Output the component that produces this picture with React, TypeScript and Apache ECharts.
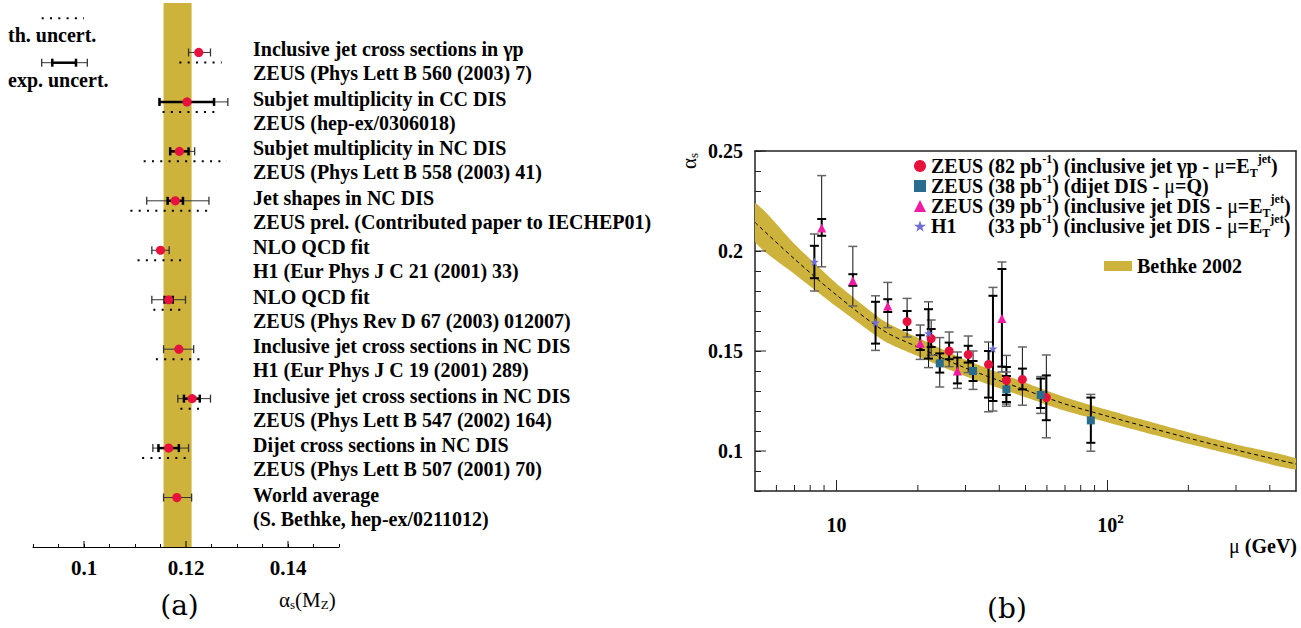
import React, { useEffect, useRef } from 'react';
import * as echarts from 'echarts';

// ---------- (a) alpha_s(M_Z) summary ----------
const rowTitles = [
  'Inclusive jet cross sections in γp',
  'Subjet multiplicity in CC DIS',
  'Subjet multiplicity in NC DIS',
  'Jet shapes in NC DIS',
  'NLO QCD fit',
  'NLO QCD fit',
  'Inclusive jet cross sections in NC DIS',
  'Inclusive jet cross sections in NC DIS',
  'Dijet cross sections in NC DIS',
  'World average',
];
const rowRefs = [
  'ZEUS (Phys Lett B 560 (2003) 7)',
  'ZEUS (hep-ex/0306018)',
  'ZEUS (Phys Lett B 558 (2003) 41)',
  'ZEUS prel. (Contributed paper to IECHEP01)',
  'H1 (Eur Phys J C 21 (2001) 33)',
  'ZEUS (Phys Rev D 67 (2003) 012007)',
  'H1 (Eur Phys J C 19 (2001) 289)',
  'ZEUS (Phys Lett B 547 (2002) 164)',
  'ZEUS (Phys Lett B 507 (2001) 70)',
  '(S. Bethke, hep-ex/0211012)',
];
const rowValues = [0.1225, 0.1202, 0.1187, 0.1179, 0.115, 0.1166, 0.1186, 0.1212, 0.1166, 0.1182];
const rowExpLo = [0.1205, 0.1148, 0.1169, 0.1123, 0.1133, 0.1133, 0.1156, 0.1184, 0.1135, 0.1156];
const rowExpHi = [0.1248, 0.1282, 0.1217, 0.1245, 0.1167, 0.1199, 0.1215, 0.1248, 0.1205, 0.1211];
const rowStatLo = [null, 0.1148, 0.1169, 0.1164, null, 0.1158, null, 0.1196, 0.1146, null];
const rowStatHi = [null, 0.1255, 0.1205, 0.1194, null, 0.1174, null, 0.1227, 0.1186, null];
const rowThLo = [0.1187, 0.1154, 0.1117, 0.1091, 0.1105, 0.1136, 0.1141, 0.1189, 0.1114, null];
const rowThHi = [0.127, 0.1266, 0.128, 0.1253, 0.1202, 0.1192, 0.1238, 0.1233, 0.1211, null];
const worldBand = [0.1156, 0.1211];
const leftTickLabels = [0.1, 0.12, 0.14];

// ---------- (b) alpha_s(mu) running ----------
// [mu, alpha_s, innerLo, innerHi, outerLo, outerHi]
const zeusGammaP = [
  [18.25, 0.1647, 0.1605, 0.17, 0.157, 0.1763],
  [22.4, 0.1562, 0.152, 0.161, 0.1478, 0.1655],
  [26.1, 0.15, 0.1459, 0.1542, 0.1422, 0.1595],
  [30.7, 0.1482, 0.1442, 0.1526, 0.1392, 0.1575],
  [36.5, 0.1433, 0.1267, 0.15, 0.1196, 0.1545],
  [42.5, 0.1353, 0.128, 0.142, 0.1235, 0.1478],
  [48.7, 0.1358, 0.1308, 0.1412, 0.1229, 0.152],
  [59.7, 0.1267, 0.1154, 0.1378, 0.1066, 0.148],
];
const zeusDijet = [
  [24.1, 0.1438, 0.1392, 0.1488, 0.132, 0.1567],
  [32.0, 0.14, 0.135, 0.145, 0.1308, 0.15],
  [42.5, 0.1308, 0.1245, 0.1375, 0.1224, 0.1395],
  [56.9, 0.128, 0.1215, 0.1362, 0.1188, 0.1372],
  [87.2, 0.1153, 0.1041, 0.1267, 0.0999, 0.1283],
];
const zeusDis = [
  [8.82, 0.2115, 0.2076, 0.216, 0.1921, 0.2377],
  [11.5, 0.1851, 0.1826, 0.1884, 0.1725, 0.2023],
  [15.48, 0.1725, 0.1695, 0.1759, 0.1617, 0.1843],
  [20.4, 0.1539, 0.1505, 0.1579, 0.1458, 0.163],
  [28.0, 0.14, 0.1338, 0.1467, 0.1313, 0.1495],
  [40.9, 0.1662, 0.1422, 0.191, 0.1395, 0.1945],
];
const h1Dis = [
  [8.29, 0.1946, 0.1864, 0.2026, 0.18, 0.2085],
  [13.95, 0.1642, 0.1537, 0.1746, 0.1503, 0.1776],
  [21.9, 0.1589, 0.1462, 0.1709, 0.1417, 0.1746],
  [37.9, 0.1512, 0.125, 0.1776, 0.12, 0.1818],
];
const bandMu = [5, 7, 10, 15, 20, 30, 50, 70, 100, 150, 200, 300, 500];
const bandCenter = [0.2143, 0.196, 0.178, 0.16, 0.152, 0.1415, 0.1305, 0.1235, 0.1175, 0.111, 0.1065, 0.1005, 0.0935];
const bandUpper = [0.2239, 0.2035, 0.1838, 0.165, 0.1566, 0.1456, 0.1341, 0.1269, 0.1206, 0.114, 0.1094, 0.1033, 0.0962];
const bandLower = [0.2047, 0.1885, 0.1722, 0.155, 0.1474, 0.1374, 0.1269, 0.1201, 0.1144, 0.108, 0.1036, 0.0977, 0.0908];
const muMinorTicks = [6, 7, 8, 9, 20, 30, 40, 50, 60, 70, 80, 90, 200, 300, 400];
const alphaTickLabels = [0.1, 0.15, 0.2, 0.25];

const legendNames = [
  'ZEUS (82 pb-1) (inclusive jet γp - μ=ET jet)',
  'ZEUS (38 pb-1) (dijet DIS - μ=Q)',
  'ZEUS (39 pb-1) (inclusive jet DIS - μ=ET jet)',
  'H1 (33 pb-1) (inclusive jet DIS - μ=ET jet)',
];
const legendRich = [
  '{b|ZEUS (82 pb}{sup|-1}{b|) (inclusive jet γp - }{g|μ}{b|=E}{sub|T}{sup|jet}{b|)}',
  '{b|ZEUS (38 pb}{sup|-1}{b|) (dijet DIS - }{g|μ}{b|=Q)}',
  '{b|ZEUS (39 pb}{sup|-1}{b|) (inclusive jet DIS - }{g|μ}{b|=E}{sub|T}{sup|jet}{b|)}',
  '{w|H1}{b|(33 pb}{sup|-1}{b|) (inclusive jet DIS - }{g|μ}{b|=E}{sub|T}{sup|jet}{b|)}',
];

const SERIF = 'Liberation Serif';
const RED = '#E8103C';
const TEAL = '#2A6C8E';
const PINK = '#F21AA0';
const VIOLET = '#6F6FD9';
const BAND = '#CDB23C';
const STAR = 'path://M50 0 L61.8 35.1 L98.1 35.1 L68.8 56.7 L79.4 90.9 L50 69.4 L20.6 90.9 L31.2 56.7 L1.9 35.1 L38.2 35.1 Z';

function ln(x1: number, y1: number, x2: number, y2: number, stroke: string, w: number, dash?: number[]) {
  return { type: 'line', shape: { x1, y1, x2, y2 }, style: { stroke, lineWidth: w, lineDash: dash } };
}
function txt(x: number, y: number, text: string, size: number, weight: string, family: string, align = 'left', rich?: any) {
  return {
    type: 'text', x, y,
    style: {
      text, fontSize: size, fontWeight: weight, fontFamily: family, fill: '#000',
      align, verticalAlign: 'middle', textAlign: align, textVerticalAlign: 'middle', rich,
    },
  };
}

function errSeries(name: string, data: number[][]) {
  return {
    type: 'custom', name, xAxisIndex: 1, yAxisIndex: 1, z: 3, silent: true,
    data, encode: { x: 0, y: 1 },
    renderItem: (params: any, api: any) => {
      const d = data[params.dataIndex];
      const oL = api.coord([d[0], d[4]]);
      const oH = api.coord([d[0], d[5]]);
      const iL = api.coord([d[0], d[2]]);
      const iH = api.coord([d[0], d[3]]);
      const cx = oL[0];
      const hw = 4.5;
      return {
        type: 'group',
        children: [
          ln(cx, oL[1], cx, oH[1], '#111', 1),
          ln(cx, iL[1], cx, iH[1], '#000', 2),
          ln(cx - hw, oL[1], cx + hw, oL[1], '#666', 1.5),
          ln(cx - hw, oH[1], cx + hw, oH[1], '#666', 1.5),
          ln(cx - hw, iL[1], cx + hw, iL[1], '#000', 2),
          ln(cx - hw, iH[1], cx + hw, iH[1], '#000', 2),
        ],
      };
    },
  };
}

function scatterSeries(name: string, data: number[][], symbol: string, size: number, color: string) {
  return {
    type: 'scatter', name, xAxisIndex: 1, yAxisIndex: 1, z: 4, silent: true,
    data: data.map((d) => [d[0], d[1]]), symbol, symbolSize: size,
    itemStyle: { color, opacity: 1 },
  };
}

export default function App() {
  const ref = useRef<HTMLDivElement>(null);
  useEffect(() => {
    const chart = echarts.init(ref.current!, null, { renderer: 'svg' });
    const axisLabelFont = { color: '#000', fontFamily: SERIF, fontWeight: 'bold' };
    const richB = { fontFamily: SERIF, fontWeight: 'bold', fontSize: 20, lineHeight: 26, color: '#000' };
    const small = { fontFamily: SERIF, fontWeight: 'bold', fontSize: 12, color: '#000' };
    const option: any = {
      animation: false,
      textStyle: { fontFamily: SERIF },
      grid: [
        { left: 33, top: 3, width: 306, height: 544, outerBoundsMode: 'none', containLabel: false },
        { left: 755, top: 151, width: 541, height: 340, outerBoundsMode: 'none', containLabel: false },
      ],
      xAxis: [
        {
          gridIndex: 0, type: 'value', min: 0.09, max: 0.15, interval: 0.005, position: 'bottom',
          axisLine: { show: true, onZero: false, lineStyle: { color: '#000', width: 1 } },
          axisTick: { show: true, inside: true, length: 3, lineStyle: { color: '#000', width: 1 } },
          axisLabel: {
            ...axisLabelFont, fontSize: 21, margin: 10,
            formatter: (v: number) => {
              const r = Math.round(v * 1000) / 1000;
              return leftTickLabels.includes(r) ? String(r) : '';
            },
          },
          splitLine: { show: false },
        },
        {
          gridIndex: 1, type: 'log', logBase: 10, min: 5, max: 500, position: 'bottom',
          axisLine: { show: true, onZero: false, lineStyle: { color: '#222', width: 1.5 } },
          axisTick: { show: true, inside: true, length: 11, lineStyle: { color: '#222', width: 1 } },
          axisLabel: {
            ...axisLabelFont, fontSize: 20, margin: 21, showMinLabel: false, showMaxLabel: false,
            formatter: (v: number) => {
              const r = Math.round(v);
              if (r === 10) return '{n|10}';
              if (r === 100) return '{pad|}{n|10}{sup|2}';
              return '';
            },
            rich: {
              n: { ...richB },
              pad: { width: 7, fontSize: 12, lineHeight: 26 },
              sup: { ...small, fontSize: 13, lineHeight: 10, verticalAlign: 'top' },
            },
          },
          splitLine: { show: false },
          minorTick: { show: false },
        },
        {
          gridIndex: 1, type: 'log', logBase: 10, min: 5, max: 500, position: 'top',
          axisLine: { show: true, onZero: false, lineStyle: { color: '#222', width: 1.5 } },
          axisTick: { show: false }, axisLabel: { show: false }, splitLine: { show: false },
        },
      ],
      yAxis: [
        { gridIndex: 0, type: 'value', min: -1, max: 10, inverse: true, show: false, splitLine: { show: false } },
        {
          gridIndex: 1, type: 'value', min: 0.08, max: 0.25, interval: 0.01, position: 'left',
          axisLine: { show: true, onZero: false, lineStyle: { color: '#222', width: 1.5 } },
          axisTick: { show: true, inside: true, length: 6, lineStyle: { color: '#222', width: 1 } },
          axisLabel: {
            ...axisLabelFont, fontSize: 20, margin: 12,
            formatter: (v: number) => {
              const r = Math.round(v * 100) / 100;
              return alphaTickLabels.includes(r) ? String(r) : '';
            },
          },
          splitLine: { show: false },
        },
        {
          gridIndex: 1, type: 'value', min: 0.08, max: 0.25, position: 'right',
          axisLine: { show: true, onZero: false, lineStyle: { color: '#222', width: 1.5 } },
          axisTick: { show: false }, axisLabel: { show: false }, splitLine: { show: false },
        },
      ],
      legend: [
        {
          data: [
            { name: legendNames[0], icon: 'circle' },
            { name: legendNames[1], icon: 'rect' },
            { name: legendNames[2], icon: 'triangle' },
            { name: legendNames[3], icon: STAR },
          ],
          orient: 'vertical', left: 914, top: 153, itemGap: -6, itemWidth: 12, itemHeight: 12, padding: 0,
          selectedMode: false,
          formatter: (n: string) => legendRich[legendNames.indexOf(n)],
          textStyle: {
            ...richB,
            rich: {
              b: { ...richB },
              w: { ...richB, width: 57 },
              g: { ...richB, fontWeight: 'normal' },
              sup: { ...small, lineHeight: 10, verticalAlign: 'top' },
              sub: { ...small, lineHeight: 10, verticalAlign: 'bottom' },
            },
          },
        },
        {
          data: [{ name: 'Bethke 2002', icon: 'rect', itemStyle: { color: BAND } }],
          left: 1104, top: 256, itemWidth: 28, itemHeight: 10, padding: 0, selectedMode: false,
          textStyle: { ...richB, lineHeight: 20 },
        },
      ],
      series: [
        // (a) world-average band
        {
          type: 'custom', name: 'world-band', xAxisIndex: 0, yAxisIndex: 0, z: 1, silent: true,
          data: [[worldBand[0], worldBand[1]]], encode: { x: [0, 1] },
          renderItem: (params: any, api: any) => {
            const a = api.coord([worldBand[0], -1]);
            const b = api.coord([worldBand[1], 10]);
            return { type: 'rect', shape: { x: a[0], y: a[1], width: b[0] - a[0], height: b[1] - a[1] }, style: { fill: BAND } };
          },
        },
        // (a) measurements
        {
          type: 'custom', name: 'measurements', xAxisIndex: 0, yAxisIndex: 0, z: 3, silent: true, clip: false,
          data: rowValues.map((v, i) => [v, i]), encode: { x: 0, y: 1 },
          renderItem: (params: any, api: any) => {
            const i = params.dataIndex;
            const p = api.coord([rowValues[i], i]);
            const y = p[1];
            const X = (v: number) => api.coord([v, i])[0];
            const ch: any[] = [];
            const th1 = rowThLo[i];
            const th2 = rowThHi[i];
            if (th1 != null && th2 != null) ch.push(ln(X(th1), y + 10, X(th2), y + 10, '#000', 2, [2, 6.3]));
            const e1 = X(rowExpLo[i]);
            const e2 = X(rowExpHi[i]);
            ch.push(ln(e1, y, e2, y, '#333', 1));
            ch.push(ln(e1, y - 4, e1, y + 4, '#333', 1.3));
            ch.push(ln(e2, y - 4, e2, y + 4, '#333', 1.3));
            const s1 = rowStatLo[i];
            const s2 = rowStatHi[i];
            if (s1 != null && s2 != null) {
              const a = X(s1);
              const b = X(s2);
              ch.push(ln(a, y, b, y, '#000', 2.5));
              ch.push(ln(a, y - 4, a, y + 4, '#000', 2.5));
              ch.push(ln(b, y - 4, b, y + 4, '#000', 2.5));
            }
            ch.push({ type: 'circle', shape: { cx: p[0], cy: y, r: 4.6 }, style: { fill: RED } });
            ch.push(txt(253, y - 3, rowTitles[i], 20, 'bold', SERIF));
            ch.push(txt(253, y + 21, rowRefs[i], 20, 'bold', SERIF));
            return { type: 'group', children: ch };
          },
        },
        // (a) long ticks
        {
          type: 'custom', name: 'a-major-ticks', xAxisIndex: 0, yAxisIndex: 0, z: 5, silent: true, clip: false,
          data: leftTickLabels.map((v) => [v, 10]), encode: { x: 0, y: 1 },
          renderItem: (params: any, api: any) => {
            const p = api.coord([leftTickLabels[params.dataIndex], 10]);
            return ln(p[0], p[1], p[0], p[1] - 6, '#000', 1);
          },
        },
        // (b) Bethke band
        {
          type: 'custom', name: 'Bethke 2002', xAxisIndex: 1, yAxisIndex: 1, z: 1, silent: true, clip: true,
          itemStyle: { color: BAND },
          data: [[bandMu[0], bandCenter[0]]], encode: { x: 0, y: 1 },
          renderItem: (params: any, api: any) => {
            const up = bandMu.map((m, i) => api.coord([m, bandUpper[i]]));
            const lo = bandMu.map((m, i) => api.coord([m, bandLower[i]])).reverse();
            return { type: 'polygon', shape: { points: up.concat(lo), smooth: 0.2 }, style: { fill: BAND } };
          },
        },
        {
          type: 'line', name: 'Bethke centre', xAxisIndex: 1, yAxisIndex: 1, z: 2, silent: true,
          data: bandMu.map((m, i) => [m, bandCenter[i]]), symbol: 'none', smooth: 0.3,
          lineStyle: { color: '#000', width: 1, type: [4, 3] },
        },
        errSeries('err-gp', zeusGammaP),
        errSeries('err-dijet', zeusDijet),
        errSeries('err-dis', zeusDis),
        errSeries('err-h1', h1Dis),
        scatterSeries(legendNames[0], zeusGammaP, 'circle', 9, RED),
        scatterSeries(legendNames[1], zeusDijet, 'rect', 8, TEAL),
        scatterSeries(legendNames[2], zeusDis, 'triangle', 9, PINK),
        scatterSeries(legendNames[3], h1Dis, STAR, 9, VIOLET),
        // (b) minor x ticks
        {
          type: 'custom', name: 'mu-minor-ticks', xAxisIndex: 1, yAxisIndex: 1, z: 5, silent: true, clip: false,
          data: muMinorTicks.map((v) => [v, 0.08]), encode: { x: 0, y: 1 },
          renderItem: (params: any, api: any) => {
            const p = api.coord([muMinorTicks[params.dataIndex], 0.08]);
            return ln(p[0], p[1], p[0], p[1] - 6, '#222', 1);
          },
        },
        // (b) major y ticks
        {
          type: 'custom', name: 'alpha-major-ticks', xAxisIndex: 1, yAxisIndex: 1, z: 5, silent: true, clip: false,
          data: alphaTickLabels.map((v) => [5, v]), encode: { x: 0, y: 1 },
          renderItem: (params: any, api: any) => {
            const p = api.coord([5, alphaTickLabels[params.dataIndex]]);
            return ln(p[0], p[1], p[0] + 11, p[1], '#222', 1);
          },
        },
      ],
      graphic: [
        // legend of (a)
        ln(41.7, 18.3, 84, 18.3, '#000', 2, [2, 6.3]),
        txt(8, 35, 'th. uncert.', 20, 'bold', SERIF),
        ln(41.7, 62.7, 87.3, 62.7, '#333', 1),
        ln(41.7, 58.7, 41.7, 66.7, '#333', 1.3),
        ln(87.3, 58.7, 87.3, 66.7, '#333', 1.3),
        ln(52.3, 62.7, 76, 62.7, '#000', 2.5),
        ln(52.3, 58.7, 52.3, 66.7, '#000', 2.5),
        ln(76, 58.7, 76, 66.7, '#000', 2.5),
        txt(8, 80, 'exp. uncert.', 20, 'bold', SERIF),
        // axis titles and panel labels
        txt(279, 600, '{m|α}{s|s}{m|(M}{s|Z}{m|)}', 21, 'normal', SERIF, 'left', {
          m: { fontFamily: SERIF, fontSize: 21, lineHeight: 22, color: '#000' },
          s: { fontFamily: SERIF, fontSize: 13, lineHeight: 13, verticalAlign: 'bottom', color: '#000' },
        }),
        txt(179.5, 605, '(a)', 28, 'normal', 'DejaVu Serif', 'center'),
        txt(1007, 608, '(b)', 28, 'normal', 'DejaVu Serif', 'center'),
        txt(1297, 546, '{g|μ}{b| (GeV)}', 20, 'bold', SERIF, 'right', {
          g: { fontFamily: SERIF, fontSize: 20, fontWeight: 'normal', color: '#000' },
          b: { fontFamily: SERIF, fontSize: 20, fontWeight: 'bold', color: '#000' },
        }),
        {
          type: 'text', x: 689, y: 161, rotation: Math.PI / 2,
          style: {
            text: '{m|α}{s|s}', align: 'center', verticalAlign: 'middle', textAlign: 'center', textVerticalAlign: 'middle',
            rich: {
              m: { fontFamily: SERIF, fontSize: 21, lineHeight: 22, color: '#000' },
              s: { fontFamily: SERIF, fontSize: 13, lineHeight: 13, verticalAlign: 'bottom', color: '#000' },
            },
          },
        },
        ln(1104, 266, 1132, 266, '#000', 1, [3, 2]),
      ],
    };
    chart.setOption(option);
    return () => chart.dispose();
  }, []);
  return <div ref={ref} style={{ position: 'fixed', left: 0, top: 0, width: 1301, height: 628, background: '#fff' }} />;
}
